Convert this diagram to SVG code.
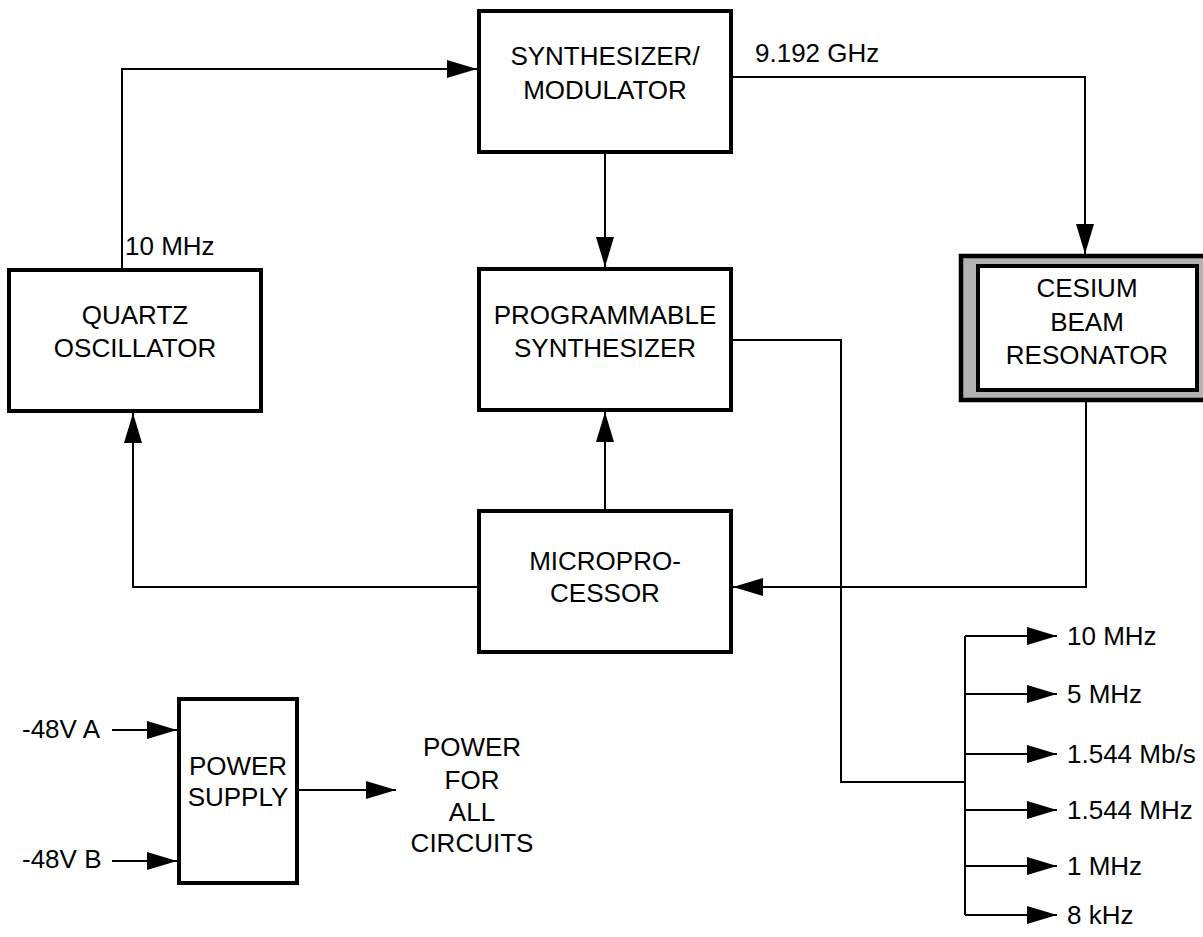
<svg xmlns="http://www.w3.org/2000/svg" width="1203" height="937" viewBox="0 0 1203 937">
<style>
.box{fill:#fff;stroke:#000;stroke-width:4}
.t{font-family:"Liberation Sans",Arial,sans-serif;font-size:26px;fill:#000}
.c{text-anchor:middle}
.ln{fill:none;stroke:#000;stroke-width:2}
</style>
<defs>
<marker id="ah" markerUnits="userSpaceOnUse" markerWidth="32" markerHeight="20" refX="30" refY="9" orient="auto">
<path d="M0,0 L30,9 L0,18 Z" fill="#000"/>
</marker>
</defs>
<rect width="1203" height="937" fill="#fff"/>
<g id="connectors">
<path class="ln" d="M122,268 V69 H477" marker-end="url(#ah)"/>
<path class="ln" d="M733,77 H1085 V254" marker-end="url(#ah)"/>
<path class="ln" d="M605,154 V267" marker-end="url(#ah)"/>
<path class="ln" d="M605,509 V412" marker-end="url(#ah)"/>
<path class="ln" d="M477,587 H133 V413" marker-end="url(#ah)"/>
<path class="ln" d="M1086,402 V587 H733" marker-end="url(#ah)"/>
<path class="ln" d="M733,340 H841 V782 H965"/>
<path class="ln" d="M965,636 V915"/>
<path class="ln" d="M965,636 H1057" marker-end="url(#ah)"/>
<path class="ln" d="M965,694 H1057" marker-end="url(#ah)"/>
<path class="ln" d="M965,754 H1057" marker-end="url(#ah)"/>
<path class="ln" d="M965,810 H1057" marker-end="url(#ah)"/>
<path class="ln" d="M965,866 H1057" marker-end="url(#ah)"/>
<path class="ln" d="M965,915 H1057" marker-end="url(#ah)"/>
<path class="ln" d="M112,730 H177" marker-end="url(#ah)"/>
<path class="ln" d="M112,861 H177" marker-end="url(#ah)"/>
<path class="ln" d="M299,790 H396" marker-end="url(#ah)"/>
</g>
<g id="labels">
<text class="t" x="125" y="255">10 MHz</text>
<text class="t" x="755" y="62">9.192 GHz</text>
<text class="t" x="22" y="738">-48V A</text>
<text class="t" x="22" y="868">-48V B</text>
<text class="t" x="1067" y="645">10 MHz</text>
<text class="t" x="1067" y="703">5 MHz</text>
<text class="t" x="1067" y="763">1.544 Mb/s</text>
<text class="t" x="1067" y="819">1.544 MHz</text>
<text class="t" x="1067" y="875">1 MHz</text>
<text class="t" x="1067" y="924">8 kHz</text>
<text class="t c" x="472" y="756">POWER</text>
<text class="t c" x="472" y="789">FOR</text>
<text class="t c" x="472" y="821">ALL</text>
<text class="t c" x="472" y="852">CIRCUITS</text>
</g>
<g id="synth-mod">
<rect class="box" x="479" y="11" width="252" height="141"/>
<text class="t c" x="605" y="65">SYNTHESIZER/</text>
<text class="t c" x="605" y="99">MODULATOR</text>
</g>
<g id="prog-synth">
<rect class="box" x="479" y="269" width="252" height="141"/>
<text class="t c" x="605" y="324">PROGRAMMABLE</text>
<text class="t c" x="605" y="357">SYNTHESIZER</text>
</g>
<g id="microprocessor">
<rect class="box" x="479" y="511" width="252" height="141"/>
<text class="t c" x="605" y="570">MICROPRO-</text>
<text class="t c" x="605" y="602">CESSOR</text>
</g>
<g id="quartz">
<rect class="box" x="9" y="270" width="252" height="141"/>
<text class="t c" x="135" y="324">QUARTZ</text>
<text class="t c" x="135" y="357">OSCILLATOR</text>
</g>
<g id="cesium">
<rect x="961" y="256" width="246" height="144" fill="#b3b3b3" stroke="#000" stroke-width="4.5"/>
<rect class="box" x="978" y="266" width="219" height="124"/>
<text class="t c" x="1087" y="297">CESIUM</text>
<text class="t c" x="1087" y="331">BEAM</text>
<text class="t c" x="1087" y="364">RESONATOR</text>
</g>
<g id="power-supply">
<rect class="box" x="179" y="699" width="118" height="184"/>
<text class="t c" x="238" y="775">POWER</text>
<text class="t c" x="238" y="806">SUPPLY</text>
</g>
</svg>
